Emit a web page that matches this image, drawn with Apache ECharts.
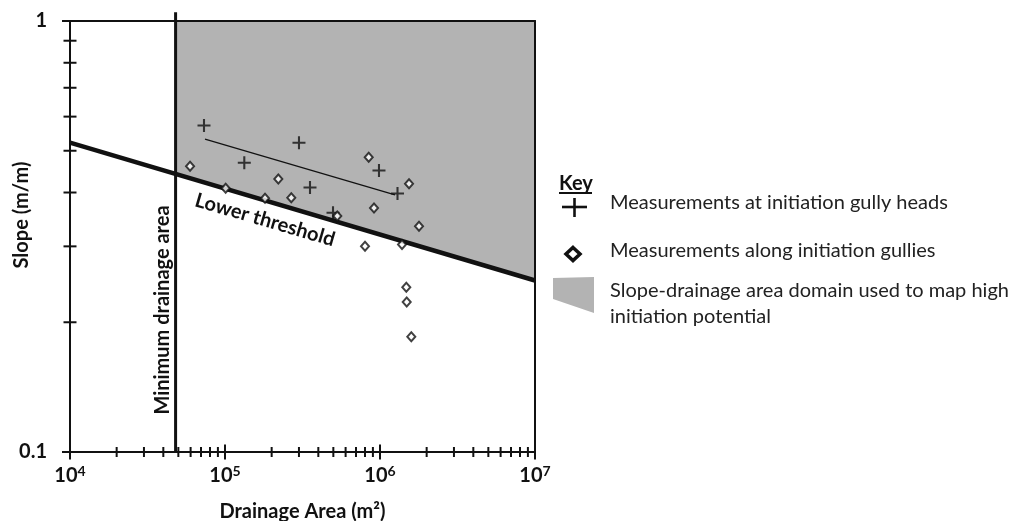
<!DOCTYPE html>
<html><head><meta charset="utf-8">
<script src="https://cdn.jsdelivr.net/npm/echarts@6/dist/echarts.min.js"></script>
<style>html,body{margin:0;padding:0;background:#fff}#c{width:1018px;height:521px}</style>
</head><body><div id="c"></div><script>
// ---- data ----
const gullyHeads = [[73200,0.572],[133200,0.469],[300100,0.522],[353500,0.411],[497600,0.359],[985000,0.450],[1297000,0.398]];
const gullyPoints = [[59500,0.460],[101000,0.409],[181200,0.388],[220800,0.430],[267700,0.389],[530200,0.353],[800400,0.300],[845600,0.483],[914800,0.368],[1387000,0.303],[1478000,0.241],[1487000,0.223],[1539000,0.419],[1592000,0.185],[1785000,0.334]];
const headTrend = [[74300,0.532],[1250000,0.395]];
const lowerThreshold = [[10000,0.522],[10000000,0.25]];
const minAreaLine = [[48000,0.1],[48000,1.048]];
const domainArea = [[48000,0.442],[48000,1],[10000000,1],[10000000,0.25]];
const xTicksMajor = [10000,100000,1000000,10000000];
const xTicksMinor = [20000,30000,40000,50000,60000,70000,80000,90000,200000,300000,400000,500000,600000,700000,800000,900000,2000000,3000000,4000000,5000000,6000000,7000000,8000000,9000000];
const yTicksMajor = [0.1,1];
const yTicksMinor = [0.2,0.3,0.4,0.5,0.6,0.7,0.8,0.9];
const xTitle = 'Drainage Area (m²)';
const yTitle = 'Slope (m/m)';
const keyItems = ['Measurements at initiation gully heads','Measurements along initiation gullies','Slope-drainage area domain used to map high','initiation potential'];

const FONT = 'Lato, "Noto Sans", sans-serif';
const INK = '#111';
const chart = echarts.init(document.getElementById('c'));

function tickSeries(vals, axis, half) {
  return {
    type: 'custom', coordinateSystem: 'cartesian2d', z: 10, silent: true,
    data: vals.map(v => axis === 'x' ? [v, 0.1] : [10000, v]),
    renderItem: (params, api) => {
      const p = api.coord([api.value(0), api.value(1)]);
      const shape = axis === 'x'
        ? {x1: p[0], y1: p[1] - half, x2: p[0], y2: p[1] + half}
        : {x1: p[0] - half, y1: p[1], x2: p[0] + half, y2: p[1]};
      return {type: 'line', shape, style: {stroke: INK, lineWidth: 2}};
    }
  };
}

const plusPath = 'path://M4.2,0H5.8V4.2H10V5.8H5.8V10H4.2V5.8H0V4.2H4.2Z';

chart.setOption({
  animation: false,
  backgroundColor: '#fff',
  grid: {left: 70, right: 483, top: 21, bottom: 69, containLabel: false, outerBoundsMode: 'none'},
  xAxis: [{
    type: 'log', logBase: 10, min: 10000, max: 10000000, z: 10,
    axisLine: {lineStyle: {color: INK, width: 2}},
    axisTick: {show: false}, splitLine: {show: false},
    axisLabel: {
      margin: 12, color: INK, showMinLabel: true, showMaxLabel: true,
      formatter: v => '{b|10}{s|' + Math.round(Math.log10(v)) + '}',
      rich: {
        b: {fontFamily: FONT, fontWeight: 'bold', fontSize: 20, lineHeight: 24, color: INK},
        s: {fontFamily: FONT, fontWeight: 'bold', fontSize: 14, lineHeight: 14, verticalAlign: 'top', color: INK}
      }
    },
    name: xTitle, nameLocation: 'middle', nameGap: 50,
    nameTextStyle: {fontFamily: FONT, fontWeight: 'bold', fontSize: 20, color: INK}
  }, {
    type: 'log', logBase: 10, min: 10000, max: 10000000, position: 'top', z: 10,
    axisLine: {lineStyle: {color: INK, width: 2}},
    axisTick: {show: false}, axisLabel: {show: false}, splitLine: {show: false}
  }],
  yAxis: [{
    type: 'log', logBase: 10, min: 0.1, max: 1, z: 10,
    axisLine: {lineStyle: {color: INK, width: 2}},
    axisTick: {show: false}, splitLine: {show: false},
    axisLabel: {
      margin: 23, color: INK, fontFamily: FONT, fontWeight: 'bold', fontSize: 20,
      showMinLabel: true, showMaxLabel: true,
      formatter: v => (v < 0.5 ? '0.1' : '1')
    }
  }, {
    type: 'log', logBase: 10, min: 0.1, max: 1, position: 'right', z: 10,
    axisLine: {lineStyle: {color: INK, width: 2}},
    axisTick: {show: false}, axisLabel: {show: false}, splitLine: {show: false}
  }],
  series: [
    {
      type: 'custom', z: 1, silent: true, data: [0],
      renderItem: (params, api) => ({
        type: 'polygon',
        shape: {points: domainArea.map(p => api.coord(p))},
        style: {fill: '#b3b3b3'}
      })
    },
    {type: 'line', data: minAreaLine, clip: false, symbol: 'none', z: 3,
     lineStyle: {color: INK, width: 3}},
    {type: 'line', data: lowerThreshold, symbol: 'none', z: 3,
     lineStyle: {color: INK, width: 4.5}},
    {type: 'line', data: headTrend, symbol: 'none', z: 3,
     lineStyle: {color: INK, width: 1.2}},
    {type: 'scatter', name: keyItems[0], data: gullyHeads, z: 5,
     symbol: plusPath, symbolSize: 13, itemStyle: {color: INK}},
    {type: 'scatter', name: keyItems[1], data: gullyPoints, z: 5,
     symbol: 'diamond', symbolSize: [8, 9],
     itemStyle: {color: '#fff', borderColor: INK, borderWidth: 2}},
    tickSeries(xTicksMajor, 'x', 7.5),
    tickSeries(xTicksMinor, 'x', 5),
    tickSeries(yTicksMajor, 'y', 8),
    tickSeries(yTicksMinor, 'y', 6.5)
  ],
  graphic: [
    {type: 'text', x: 21.7, y: 215, rotation: Math.PI / 2, z: 20,
     style: {text: yTitle, fontFamily: FONT, fontWeight: 'bold', fontSize: 20, fill: INK, align: 'center', verticalAlign: 'middle'}},
    {type: 'text', x: 163, y: 310, rotation: Math.PI / 2, z: 20,
     style: {text: 'Minimum drainage area', fontFamily: FONT, fontWeight: 'bold', fontSize: 20, fill: INK, align: 'center', verticalAlign: 'middle'}},
    {type: 'text', x: 265, y: 220, rotation: -0.284, z: 20,
     style: {text: 'Lower threshold', fontFamily: FONT, fontWeight: 'bold', fontSize: 20, fill: INK, align: 'center', verticalAlign: 'middle'}},
    // key
    {type: 'text', x: 559, y: 184, z: 20,
     style: {text: 'Key', fontFamily: FONT, fontWeight: 'bold', fontSize: 20, fill: INK, align: 'left', verticalAlign: 'middle'}},
    {type: 'line', z: 20, shape: {x1: 559, y1: 193, x2: 592, y2: 193}, style: {stroke: INK, lineWidth: 2}},
    {type: 'line', z: 20, shape: {x1: 562, y1: 207, x2: 587, y2: 207}, style: {stroke: INK, lineWidth: 2.6}},
    {type: 'line', z: 20, shape: {x1: 574.5, y1: 198, x2: 574.5, y2: 217}, style: {stroke: INK, lineWidth: 2.6}},
    {type: 'polygon', z: 20, shape: {points: [[573, 247.5], [580, 254], [573, 260.5], [566, 254]]},
     style: {fill: '#fff', stroke: INK, lineWidth: 3.5}},
    {type: 'polygon', z: 20, shape: {points: [[553, 278], [594, 277], [594, 313], [553, 299]]},
     style: {fill: '#b3b3b3'}},
    {type: 'text', x: 610, y: 203, z: 20,
     style: {text: keyItems[0], fontFamily: FONT, fontSize: 20, fill: '#222', align: 'left', verticalAlign: 'middle'}},
    {type: 'text', x: 610, y: 251, z: 20,
     style: {text: keyItems[1], fontFamily: FONT, fontSize: 20, fill: '#222', align: 'left', verticalAlign: 'middle'}},
    {type: 'text', x: 610, y: 291, z: 20,
     style: {text: keyItems[2], fontFamily: FONT, fontSize: 20, fill: '#222', align: 'left', verticalAlign: 'middle'}},
    {type: 'text', x: 610, y: 317, z: 20,
     style: {text: keyItems[3], fontFamily: FONT, fontSize: 20, fill: '#222', align: 'left', verticalAlign: 'middle'}}
  ]
});
</script></body></html>
